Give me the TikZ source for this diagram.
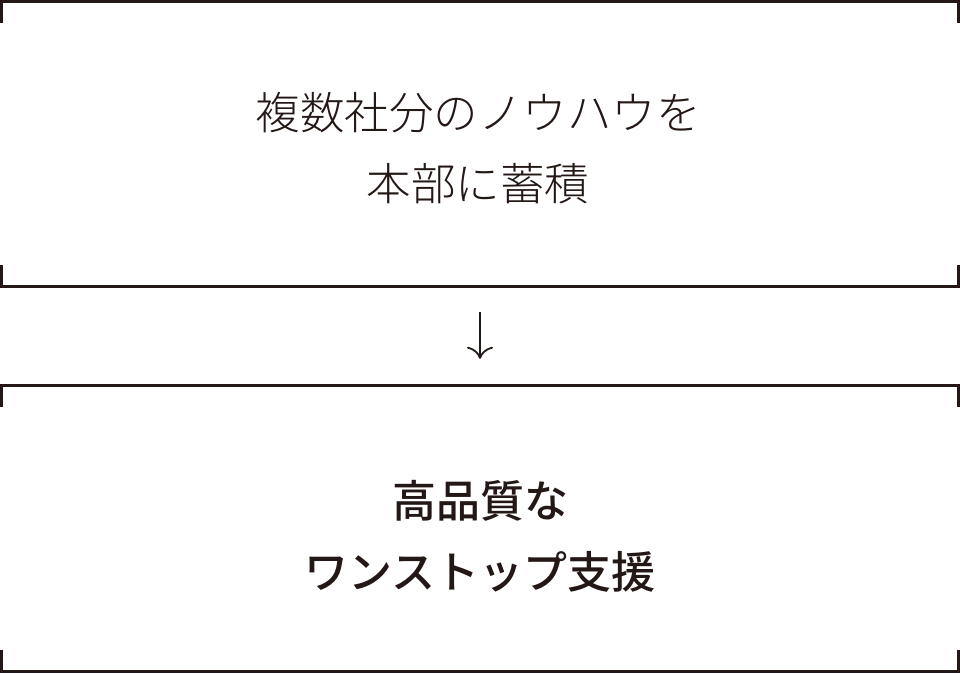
\documentclass[tikz,border=0pt]{standalone}
\usepackage{fontspec}
\newfontfamily\jpfont{Noto Sans CJK JP Light}
\newfontfamily\jpbold{Noto Sans CJK JP Medium}
\usetikzlibrary{arrows.meta}
\definecolor{ink}{HTML}{231815}
\begin{document}
\begin{tikzpicture}[x=1pt,y=-1pt,
		bracket/.style={draw=ink,line width=3pt},
		label/.style={text=ink,align=center,inner sep=0pt,font=\jpfont\fontsize{44.5}{71}\selectfont}]
			\useasboundingbox (0,0) rectangle (960,673);
			\node [minimum width=957pt,minimum height=285pt,inner sep=0pt] (know) at (480,144) {};
			\node [minimum width=957pt,minimum height=286pt,inner sep=0pt] (help) at (480,528.5) {};
			
			\node [label] (knowtext) at (478,148) {複数社分のノウハウを\\本部に蓄積};
			\node [label,font=\jpbold\fontsize{44}{71}\selectfont] (helptext) at (480,536) {高品質な\\ワンストップ支援};
			
			\draw [bracket] ([yshift=-22pt]know.north west) -- (know.north west) -- (know.north east) -- ([yshift=-22pt]know.north east);
			\draw [bracket] ([yshift=22pt]know.south west) -- (know.south west) -- (know.south east) -- ([yshift=22pt]know.south east);
			\draw [bracket] ([yshift=-22pt]help.north west) -- (help.north west) -- (help.north east) -- ([yshift=-22pt]help.north east);
			\draw [bracket] ([yshift=22pt]help.south west) -- (help.south west) -- (help.south east) -- ([yshift=22pt]help.south east);
			
			\draw [draw=ink,line width=1.8pt,-{To[length=12pt,width=26pt]}] ([yshift=-25.5pt]know.south) -- ([yshift=26.5pt]help.north);
		\end{tikzpicture}
\end{document}
